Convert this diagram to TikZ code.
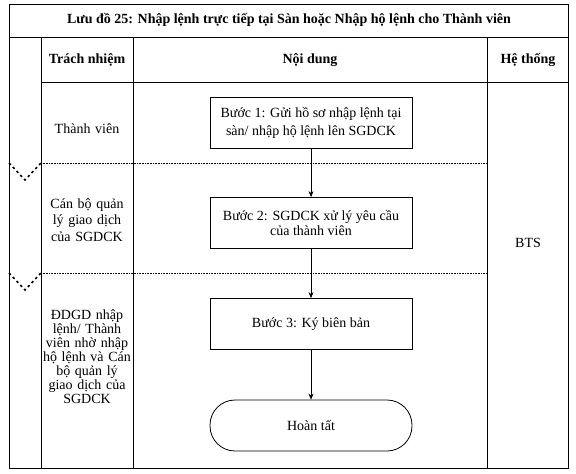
\documentclass[tikz,border=0pt]{standalone}
\usepackage{fontspec}
\setmainfont{Liberation Serif}
\usetikzlibrary{arrows.meta}
\usetikzlibrary{positioning}
\tikzset{stepbox/.style = {draw, rectangle, minimum width = 202, minimum height = 51, align = center, inner sep = 2}}
\tikzset{lanetext/.style = {align = center, text width = 90, inner sep = 0}}
\tikzset{lane/.style = {densely dotted, line width = 0.6}}
\tikzset{vmark/.style = {dash pattern = on 2.5pt off 3pt, line width = 1.6}}
\tikzset{arr/.style = {-{Stealth[length = 6, width = 5]}, line width = 0.6}}

\begin{document}
\begin{tikzpicture}[x=1pt, y=-1pt, font=\fontsize{14}{16.5}\selectfont, line width=0.8]
            \useasboundingbox (0,0) rectangle (576,474);
            \draw (9,4) rectangle (568,468);
            \draw (9,37) -- (568,37);
            \draw (41,37) -- (41,468);
            \draw (41,82) -- (568,82);
            \draw (133,37) -- (133,468);
            \draw (487,37) -- (487,468);
            \draw [lane] (41,163) -- (487,163);
            \draw [lane] (41,273) -- (487,273);
            \draw [vmark] (9,163) -- (25,180) -- (41,163);
            \draw [vmark] (9,273) -- (25,290) -- (41,273);
            \node [font=\bfseries\fontsize{14}{16}\selectfont] (tieude) at (289,20) {Lưu đồ 25: Nhập lệnh trực tiếp tại Sàn hoặc Nhập hộ lệnh cho Thành viên};
            \node [font=\bfseries\fontsize{14}{16}\selectfont] (trachnhiem) at (87,60) {Trách nhiệm};
            \node [font=\bfseries\fontsize{14}{16}\selectfont] (noidung) at (310,60) {Nội dung};
            \node [font=\bfseries\fontsize{14}{16}\selectfont] (hethong) at (528,60) {Hệ thống};
            \node [lanetext] (thanhvien) at (87,129) {Thành viên};
            \node [lanetext, font=\fontsize{14}{16.7}\selectfont] (canbo) at (87,220) {Cán bộ quản\\lý giao dịch\\của SGDCK};
            \node [lanetext, font=\fontsize{14}{14}\selectfont] (ddgd) at (87,357) {ĐDGD nhập\\lệnh/ Thành\\viên nhờ nhập\\hộ lệnh và Cán\\bộ quản lý\\giao dịch của\\SGDCK};
            \node (bts) at (528,243) {BTS};
            \node [stepbox, font=\fontsize{14}{18}\selectfont] (buoc1) at (311,122.5) {Bước 1: Gửi hồ sơ nhập lệnh tại\\sàn/ nhập hộ lệnh lên SGDCK};
            \node [stepbox, font=\fontsize{14}{15.5}\selectfont] (buoc2) at (311,223) {Bước 2: SGDCK xử lý yêu cầu\\của thành viên};
            \node [stepbox] (buoc3) at (311,324) {Bước 3: Ký biên bản};
            \node [stepbox, rounded corners = 25] (hoantat) at (311,425.5) {Hoàn tất};
            \draw [arr] (buoc1) -- (buoc2);
            \draw [arr] (buoc2) -- (buoc3);
            \draw [arr] (buoc3) -- (hoantat);
        \end{tikzpicture}
\end{document}
